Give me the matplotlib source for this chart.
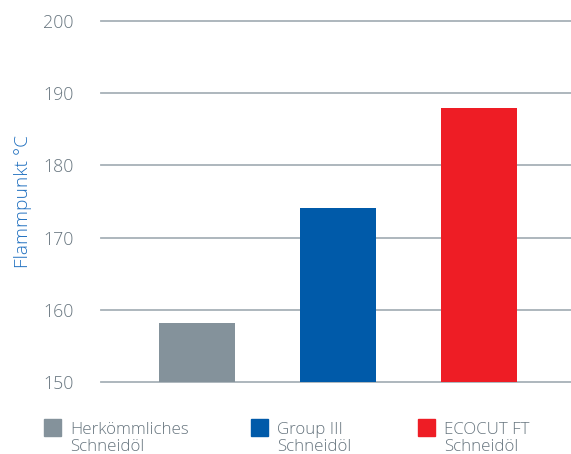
import matplotlib.pyplot as plt
from matplotlib.patches import Rectangle

plt.rcParams['font.family'] = ['Open Sans', 'DejaVu Sans']

categories = ["Herkömmliches\nSchneidöl", "Group III\nSchneidöl", "ECOCUT FT\nSchneidöl"]
values = [158.2, 174.1, 188.0]
colors = ["#84929b", "#005aa9", "#ee1d25"]
yticks = [150, 160, 170, 180, 190, 200]

grey_text = "#67757f"
grid_col = "#a7b1b8"

fig = plt.figure(figsize=(5.71, 4.54), dpi=100)
ax = fig.add_axes([0.1769, 0.1586, 0.8231, 0.7951])

x = list(range(len(values)))
ax.bar(x, [v - 150 for v in values], bottom=150, width=0.54, color=colors, zorder=3)

ax.set_ylim(150, 200)
ax.set_xlim(-0.681, 2.652)
ax.set_yticks(yticks)
for t in yticks:
    ax.axhline(t, color=grid_col, lw=1.3, zorder=2, clip_on=False)

for s in ax.spines.values():
    s.set_visible(False)
ax.set_xticks([])
ax.tick_params(axis='y', length=0, pad=20, labelsize=12.8, labelcolor=grey_text)
for lbl in ax.get_yticklabels():
    lbl.set_fontweight('light')
ax.set_ylabel("Flammpunkt °C", color="#1f6fbf", fontsize=13.8, fontweight='light')
ax.yaxis.set_label_coords(-0.147, 0.5)

# legend along the bottom
leg_x = [44, 251, 418]
for lx, c, lab in zip(leg_x, colors, categories):
    fig.patches.append(Rectangle((lx / 571, 1 - 436 / 454), 17 / 571, 17 / 454,
                                 transform=fig.transFigure, color=c))
    fig.text((lx + 26) / 571, 1 - 422 / 454, lab, ha='left', va='top',
             fontsize=12.2, color=grey_text, linespacing=1.05, fontweight='light')

fig.savefig("out.png", dpi=100)
